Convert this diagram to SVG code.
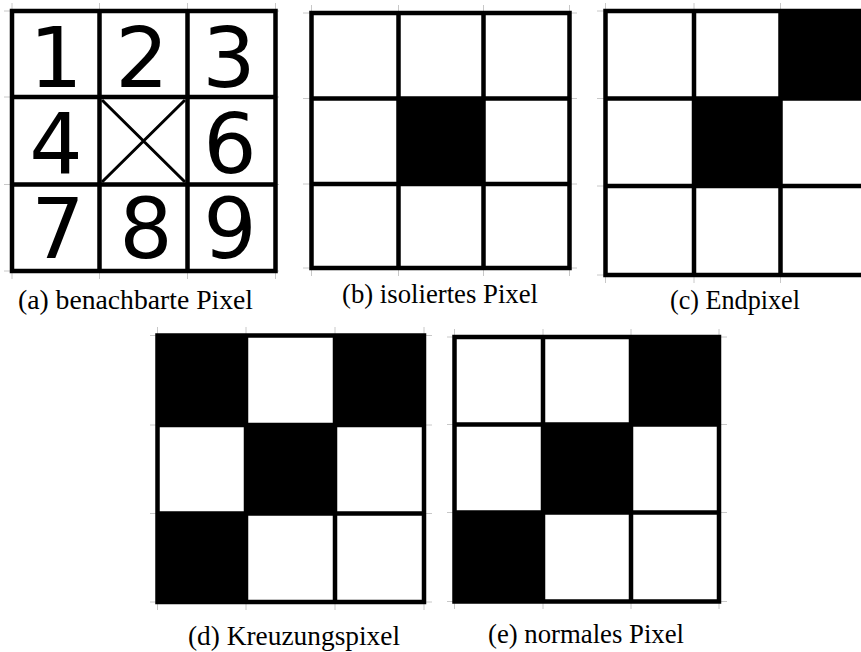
<svg xmlns="http://www.w3.org/2000/svg" width="861" height="652" viewBox="0 0 861 652">
<style>
.grid{fill:none;stroke:#000;stroke-width:4.5;stroke-linecap:square}
.tick{stroke:#c8c8c8;stroke-width:1}
.blk{fill:#000}
.dig{font-family:"DejaVu Sans",sans-serif;font-size:84px;fill:#000;text-anchor:middle}
.cap{font-family:"Liberation Serif","Times New Roman",serif;font-size:28px;fill:#000}
</style>
<rect width="861" height="652" fill="#fff"/>

<g id="panel-a">
  <g class="tick">
    <path d="M12,3V279 M99.5,3V279 M187.5,3V279 M275.5,3V279 M4,11H279 M4,97H279 M4,184.5H279 M4,271H279"/>
  </g>
  <rect x="12" y="11" width="263.5" height="260" fill="#fff" stroke="none"/>
  <path class="grid" d="M12,11H275.5V271H12Z M99.5,11V271 M187.5,11V271 M12,97H275.5 M12,184.5H275.5"/>
  <path d="M102,100L185,182 M185,100L102,182" stroke="#000" stroke-width="3" fill="none"/>
  <text class="dig" x="56" y="87">1</text>
  <text class="dig" x="142" y="87">2</text>
  <text class="dig" x="229" y="87">3</text>
  <text class="dig" x="56" y="173">4</text>
  <text class="dig" x="230" y="173">6</text>
  <text class="dig" x="58" y="258">7</text>
  <text class="dig" x="146" y="258">8</text>
  <text class="dig" x="230" y="258">9</text>
  <text class="cap" x="18" y="309" textLength="235" lengthAdjust="spacingAndGlyphs">(a) benachbarte Pixel</text>
</g>

<g id="panel-b">
  <g class="tick">
    <path d="M311.5,5V276 M398.5,5V276 M483.5,5V276 M569.5,5V276 M303,13H577 M303,98.5H577 M303,184H577 M303,268H577"/>
  </g>
  <rect x="311.5" y="13" width="258" height="255" fill="#fff" stroke="none"/>
  <rect class="blk" x="398.5" y="98.5" width="85" height="85.5"/>
  <path class="grid" d="M311.5,13H569.5V268H311.5Z M398.5,13V268 M483.5,13V268 M311.5,98.5H569.5 M311.5,184H569.5"/>
  <text class="cap" x="342" y="303" textLength="196" lengthAdjust="spacingAndGlyphs">(b) isoliertes Pixel</text>
</g>

<g id="panel-c">
  <g class="tick">
    <path d="M605.5,3V283 M694,3V283 M780.5,3V283 M597,11H861 M597,98.5H861 M597,186H861 M597,275H861"/>
  </g>
  <rect x="605.5" y="11" width="262" height="264" fill="#fff" stroke="none"/>
  <rect class="blk" x="780.5" y="11" width="90" height="87.5"/>
  <rect class="blk" x="694" y="98.5" width="86.5" height="87.5"/>
  <path class="grid" d="M867,11H605.5V275H867 M694,11V275 M780.5,11V275 M605.5,98.5H867 M605.5,186H867"/>
  <text class="cap" x="670" y="309" textLength="130" lengthAdjust="spacingAndGlyphs">(c) Endpixel</text>
</g>

<g id="panel-d">
  <g class="tick">
    <path d="M157.5,327V610 M246,327V610 M335,327V610 M424,327V610 M150,335.5H432 M150,425H432 M150,513.5H432 M150,602H432"/>
  </g>
  <rect x="157.5" y="335.5" width="266.5" height="266.5" fill="#fff" stroke="none"/>
  <rect class="blk" x="157.5" y="335.5" width="88.5" height="89.5"/>
  <rect class="blk" x="335" y="335.5" width="89" height="89.5"/>
  <rect class="blk" x="246" y="425" width="89" height="88.5"/>
  <rect class="blk" x="157.5" y="513.5" width="88.5" height="88.5"/>
  <path class="grid" d="M157.5,335.5H424V602H157.5Z M246,335.5V602 M335,335.5V602 M157.5,425H424 M157.5,513.5H424"/>
  <text class="cap" x="188" y="645" textLength="212" lengthAdjust="spacingAndGlyphs">(d) Kreuzungspixel</text>
</g>

<g id="panel-e">
  <g class="tick">
    <path d="M454.5,329V609 M543,329V609 M631,329V609 M719,329V609 M447,337H727 M447,424.5H727 M447,512.5H727 M447,601.5H727"/>
  </g>
  <rect x="454.5" y="337" width="264.5" height="264.5" fill="#fff" stroke="none"/>
  <rect class="blk" x="631" y="337" width="88" height="87.5"/>
  <rect class="blk" x="543" y="424.5" width="88" height="88"/>
  <rect class="blk" x="454.5" y="512.5" width="88.5" height="89"/>
  <path class="grid" d="M454.5,337H719V601.5H454.5Z M543,337V601.5 M631,337V601.5 M454.5,424.5H719 M454.5,512.5H719"/>
  <text class="cap" x="488" y="643" textLength="196" lengthAdjust="spacingAndGlyphs">(e) normales Pixel</text>
</g>
</svg>
